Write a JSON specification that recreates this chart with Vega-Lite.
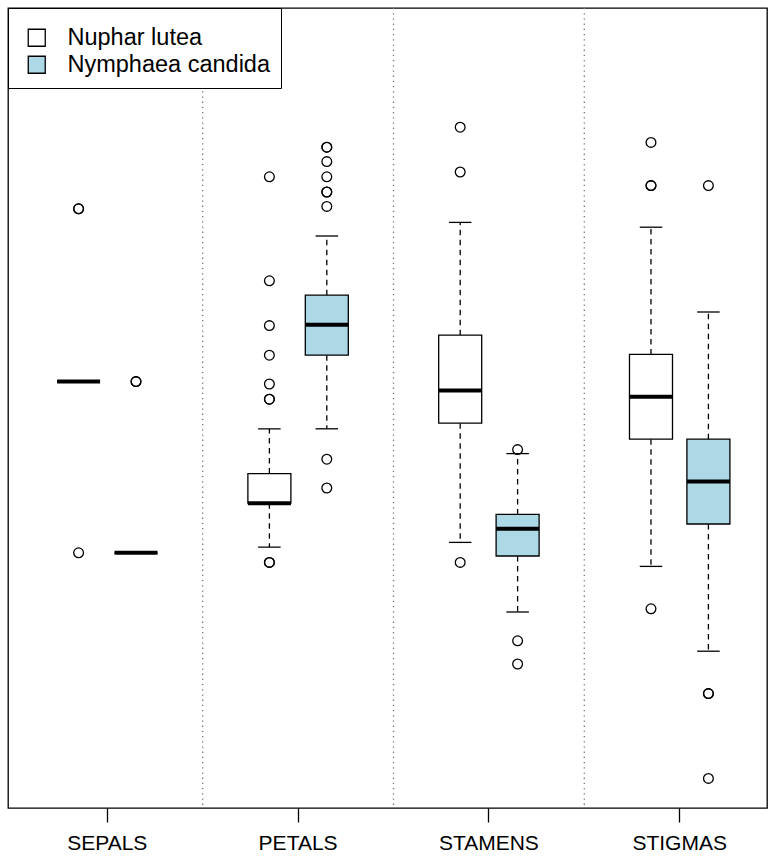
{
  "$schema": "https://vega.github.io/schema/vega-lite/v6.json",
  "autosize": {"type": "none"},
  "width": 759,
  "height": 800,
  "padding": {"left": 8, "top": 8, "right": 6, "bottom": 48},
  "background": "white",
  "config": {
    "view": {"stroke": "black", "strokeWidth": 1.3},
    "font": "Liberation Sans"
  },
  "datasets": {
    "boxes": [
      {"part": "SEPALS", "species": "Nuphar lutea", "lo": 5.33, "q1": 5.33, "med": 5.33, "q3": 5.33, "hi": 5.33},
      {"part": "SEPALS", "species": "Nymphaea candida", "lo": 3.19, "q1": 3.19, "med": 3.19, "q3": 3.19, "hi": 3.19},
      {"part": "PETALS", "species": "Nuphar lutea", "lo": 3.26, "q1": 3.81, "med": 3.81, "q3": 4.18, "hi": 4.74},
      {"part": "PETALS", "species": "Nymphaea candida", "lo": 4.74, "q1": 5.66, "med": 6.04, "q3": 6.41, "hi": 7.15},
      {"part": "STAMENS", "species": "Nuphar lutea", "lo": 3.32, "q1": 4.81, "med": 5.22, "q3": 5.91, "hi": 7.32},
      {"part": "STAMENS", "species": "Nymphaea candida", "lo": 2.45, "q1": 3.15, "med": 3.49, "q3": 3.67, "hi": 4.43},
      {"part": "STIGMAS", "species": "Nuphar lutea", "lo": 3.02, "q1": 4.61, "med": 5.14, "q3": 5.67, "hi": 7.26},
      {"part": "STIGMAS", "species": "Nymphaea candida", "lo": 1.96, "q1": 3.55, "med": 4.08, "q3": 4.61, "hi": 6.20}
    ],
    "outliers": [
      {"part": "SEPALS", "species": "Nuphar lutea", "value": 7.49},
      {"part": "SEPALS", "species": "Nuphar lutea", "value": 7.49},
      {"part": "SEPALS", "species": "Nuphar lutea", "value": 3.19},
      {"part": "SEPALS", "species": "Nymphaea candida", "value": 5.33},
      {"part": "SEPALS", "species": "Nymphaea candida", "value": 5.33},
      {"part": "PETALS", "species": "Nuphar lutea", "value": 3.07},
      {"part": "PETALS", "species": "Nuphar lutea", "value": 3.07},
      {"part": "PETALS", "species": "Nuphar lutea", "value": 5.11},
      {"part": "PETALS", "species": "Nuphar lutea", "value": 5.11},
      {"part": "PETALS", "species": "Nuphar lutea", "value": 5.30},
      {"part": "PETALS", "species": "Nuphar lutea", "value": 5.66},
      {"part": "PETALS", "species": "Nuphar lutea", "value": 6.03},
      {"part": "PETALS", "species": "Nuphar lutea", "value": 6.59},
      {"part": "PETALS", "species": "Nuphar lutea", "value": 7.89},
      {"part": "PETALS", "species": "Nymphaea candida", "value": 4.36},
      {"part": "PETALS", "species": "Nymphaea candida", "value": 4.00},
      {"part": "PETALS", "species": "Nymphaea candida", "value": 7.52},
      {"part": "PETALS", "species": "Nymphaea candida", "value": 7.70},
      {"part": "PETALS", "species": "Nymphaea candida", "value": 7.70},
      {"part": "PETALS", "species": "Nymphaea candida", "value": 7.89},
      {"part": "PETALS", "species": "Nymphaea candida", "value": 8.08},
      {"part": "PETALS", "species": "Nymphaea candida", "value": 8.26},
      {"part": "PETALS", "species": "Nymphaea candida", "value": 8.26},
      {"part": "STAMENS", "species": "Nuphar lutea", "value": 3.07},
      {"part": "STAMENS", "species": "Nuphar lutea", "value": 7.95},
      {"part": "STAMENS", "species": "Nuphar lutea", "value": 8.51},
      {"part": "STAMENS", "species": "Nymphaea candida", "value": 4.48},
      {"part": "STAMENS", "species": "Nymphaea candida", "value": 2.09},
      {"part": "STAMENS", "species": "Nymphaea candida", "value": 1.80},
      {"part": "STIGMAS", "species": "Nuphar lutea", "value": 8.32},
      {"part": "STIGMAS", "species": "Nuphar lutea", "value": 7.78},
      {"part": "STIGMAS", "species": "Nuphar lutea", "value": 7.78},
      {"part": "STIGMAS", "species": "Nuphar lutea", "value": 2.49},
      {"part": "STIGMAS", "species": "Nymphaea candida", "value": 7.78},
      {"part": "STIGMAS", "species": "Nymphaea candida", "value": 1.43},
      {"part": "STIGMAS", "species": "Nymphaea candida", "value": 1.43},
      {"part": "STIGMAS", "species": "Nymphaea candida", "value": 0.37}
    ],
    "separators": [
      {"part": "PETALS"},
      {"part": "STAMENS"},
      {"part": "STIGMAS"}
    ]
  },
  "encoding": {
    "x": {
      "field": "part",
      "type": "nominal",
      "title": null,
      "sort": null,
      "scale": {"type": "band", "domain": ["SEPALS", "PETALS", "STAMENS", "STIGMAS"], "range": [3.9, 767.1], "paddingInner": 0, "paddingOuter": 0},
      "axis": {"orient": "bottom", "domain": false, "ticks": true, "tickColor": "black", "tickSize": 14, "tickWidth": 1.3, "labelAngle": 0, "labelFontSize": 21, "labelColor": "black", "labelPadding": 10, "labelFont": "Liberation Sans", "grid": false}
    }
  },
  "layer": [
    {
      "data": {"name": "separators"},
      "mark": {"type": "rule", "color": "#777777", "strokeDash": [1.3, 3.9], "strokeWidth": 1.3},
      "encoding": {
        "x": {"field": "part", "type": "nominal", "bandPosition": 0}
      }
    },
    {
      "data": {"name": "boxes"},
      "mark": {"type": "rule", "color": "black", "strokeDash": [5.5, 4.5], "strokeWidth": 1.3},
      "encoding": {
        "xOffset": {"field": "species", "type": "nominal", "scale": {"domain": ["Nuphar lutea", "Nymphaea candida"], "paddingInner": 0.251, "paddingOuter": 0.787}},
        "y": {"field": "q3", "type": "quantitative", "scale": {"domain": [0, 10], "nice": false, "zero": false}, "axis": null},
        "y2": {"field": "hi"}
      }
    },
    {
      "data": {"name": "boxes"},
      "mark": {"type": "rule", "color": "black", "strokeDash": [5.5, 4.5], "strokeWidth": 1.3},
      "encoding": {
        "xOffset": {"field": "species", "type": "nominal"},
        "y": {"field": "q1", "type": "quantitative"},
        "y2": {"field": "lo"}
      }
    },
    {
      "data": {"name": "boxes"},
      "mark": {"type": "tick", "color": "black", "opacity": 1, "size": 22.5, "thickness": 1.3, "orient": "horizontal"},
      "encoding": {
        "xOffset": {"field": "species", "type": "nominal"},
        "y": {"field": "hi", "type": "quantitative"}
      }
    },
    {
      "data": {"name": "boxes"},
      "mark": {"type": "tick", "color": "black", "opacity": 1, "size": 22.5, "thickness": 1.3, "orient": "horizontal"},
      "encoding": {
        "xOffset": {"field": "species", "type": "nominal"},
        "y": {"field": "lo", "type": "quantitative"}
      }
    },
    {
      "data": {"name": "boxes"},
      "mark": {"type": "rect", "stroke": "black", "strokeWidth": 1.3, "opacity": 1},
      "encoding": {
        "xOffset": {"field": "species", "type": "nominal"},
        "y": {"field": "q1", "type": "quantitative"},
        "y2": {"field": "q3"},
        "fill": {
          "field": "species",
          "type": "nominal",
          "scale": {"domain": ["Nuphar lutea", "Nymphaea candida"], "range": ["white", "#ADD8E6"]},
          "legend": {
            "title": " ",
            "titleFontSize": 5,
            "titlePadding": 2,
            "orient": "none",
            "legendX": 0,
            "legendY": 0,
            "strokeColor": "black",
            "fillColor": "white",
            "padding": 11,
            "symbolType": "square",
            "symbolSize": 289,
            "symbolStrokeColor": "black",
            "symbolStrokeWidth": 1.3,
            "symbolOffset": 6,
            "labelOffset": 19,
            "labelFontSize": 23.5,
            "labelFont": "Liberation Sans",
            "labelColor": "black",
            "labelLimit": 400,
            "rowPadding": 2
          }
        }
      }
    },
    {
      "data": {"name": "boxes"},
      "mark": {"type": "tick", "color": "black", "opacity": 1, "size": 43, "thickness": 4, "orient": "horizontal"},
      "encoding": {
        "xOffset": {"field": "species", "type": "nominal"},
        "y": {"field": "med", "type": "quantitative"}
      }
    },
    {
      "data": {"name": "outliers"},
      "mark": {"type": "point", "shape": "circle", "filled": false, "stroke": "black", "strokeWidth": 1.3, "size": 95, "opacity": 1},
      "encoding": {
        "xOffset": {"field": "species", "type": "nominal"},
        "y": {"field": "value", "type": "quantitative"}
      }
    }
  ]
}
